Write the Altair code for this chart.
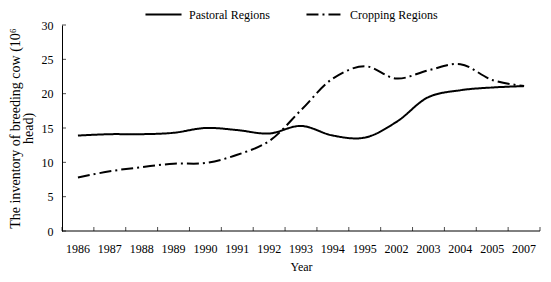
import altair as alt
import pandas as pd

years = ["1986", "1987", "1988", "1989", "1990", "1991", "1992", "1993",
         "1994", "1995", "2002", "2003", "2004", "2005", "2007"]
pastoral = [13.9, 14.1, 14.1, 14.3, 15.0, 14.7, 14.2, 15.3, 13.9, 13.6,
            15.9, 19.5, 20.5, 20.9, 21.1]
cropping = [7.8, 8.7, 9.3, 9.8, 9.9, 11.1, 13.1, 17.6, 22.2, 24.0,
            22.2, 23.4, 24.3, 22.0, 21.1]
series = ["Pastoral Regions", "Cropping Regions"]
y_ticks = [0, 5, 10, 15, 20, 25, 30]

rows = []
for i, y in enumerate(years):
    rows.append({"Year": y, "Series": series[0], "Value": pastoral[i]})
    rows.append({"Year": y, "Series": series[1], "Value": cropping[i]})
df = pd.DataFrame(rows)

FONT = "Liberation Serif"

x_scale = alt.Scale(type="band", paddingInner=0, paddingOuter=0)
x_axis = alt.Axis(
    title="Year",
    labelAngle=0,
    domain=False,
    ticks=False,
    tickSize=0,
    labelPadding=12,
    labelColor="black",
    labelFont=FONT,
    labelFontSize=12,
    labelOverlap=False,
    titleFont=FONT,
    titleFontSize=12,
    titleFontWeight="normal",
    titleColor="black",
    titlePadding=7,
    grid=False,
)
y_scale = alt.Scale(domain=[0, 30], nice=False)
y_axis = alt.Axis(
    title=["The inventory of breeding cow (10⁶", "head)"],
    values=y_ticks,
    labelOverlap=False,
    domainColor="black",
    ticks=False,
    tickSize=0,
    labelPadding=9,
    labelColor="black",
    labelFont=FONT,
    labelFontSize=12,
    titleFont=FONT,
    titleFontSize=14,
    titleFontWeight="normal",
    titleColor="black",
    titleLineHeight=13,
    titlePadding=6,
    grid=False,
)


def X(band=0.5):
    return alt.X("Year:O", sort=years, bandPosition=band, scale=x_scale, axis=x_axis)


def Y():
    return alt.Y("Value:Q", scale=y_scale, axis=y_axis)


lines = alt.Chart(df).mark_line(
    interpolate="catmull-rom", strokeWidth=2, color="black"
).encode(
    x=X(),
    y=Y(),
    strokeDash=alt.StrokeDash(
        "Series:N",
        sort=series,
        scale=alt.Scale(domain=series, range=[[1, 0], [12, 4, 2, 4]]),
        legend=alt.Legend(
            title=None,
            orient="none",
            direction="horizontal",
            legendX=82,
            legendY=-17,
            symbolType="stroke",
            symbolSize=1300,
            symbolStrokeWidth=2,
            symbolStrokeColor="black",
            clipHeight=13,
            labelFont=FONT,
            labelFontSize=12,
            labelColor="black",
            columnPadding=35,
            labelOffset=6,
        ),
    ),
    detail="Series:N",
)

# bottom axis line (y = 0)
zero_df = pd.DataFrame({"Value": [0]})
base_rule = alt.Chart(zero_df).mark_rule(color="black", strokeWidth=1).encode(y=Y())

# x-axis ticks pointing inward at category boundaries
xt_df = pd.DataFrame({"Year": years, "Value": [0] * len(years)})
x_ticks = alt.Chart(xt_df).mark_tick(
    orient="vertical", color="black", size=4, thickness=1, yOffset=-2
).encode(x=X(0), y=Y())
x_end = alt.Chart(pd.DataFrame({"Year": [years[-1]], "Value": [0]})).mark_tick(
    orient="vertical", color="black", size=4, thickness=1, yOffset=-2
).encode(x=X(1), y=Y())

# y-axis ticks pointing inward
yt_df = pd.DataFrame({"Value": y_ticks})
y_tick_marks = alt.Chart(yt_df).mark_tick(
    orient="horizontal", color="black", size=4, thickness=1
).encode(y=Y(), x=alt.value(2))

chart = alt.layer(lines, base_rule, x_ticks, x_end, y_tick_marks).properties(
    width=478, height=206, background="white",
    padding={"left": 0, "top": 0, "right": 0, "bottom": 0},
).configure_view(stroke=None)

chart.save("out.html", embed_options={"renderer": "svg", "actions": False})
